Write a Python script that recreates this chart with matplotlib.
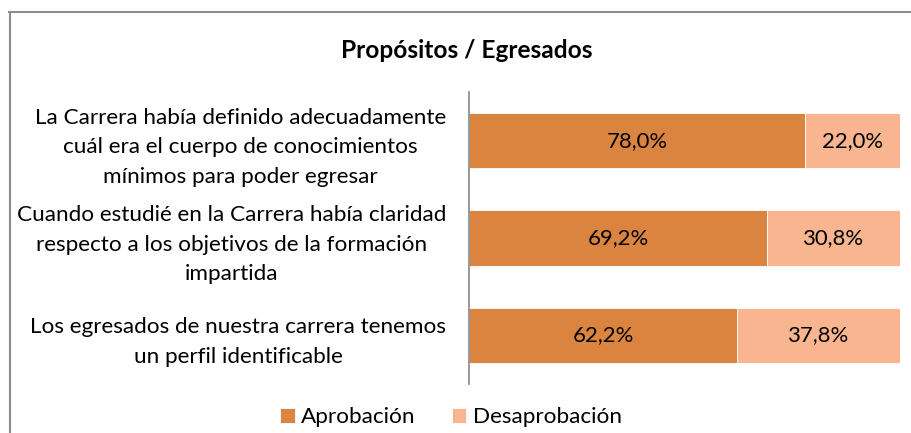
import matplotlib
matplotlib.use("Agg")
import matplotlib.pyplot as plt
from matplotlib.lines import Line2D
import numpy as np

# Survey items (top to bottom) and approval split in %
items = [
    "La Carrera había definido adecuadamente\ncuál era el cuerpo de conocimientos\nmínimos para poder egresar",
    "Cuando estudié en la Carrera había claridad\nrespecto a los objetivos de la formación\nimpartida",
    "Los egresados de nuestra carrera tenemos\nun perfil identificable",
]
aprobacion = [78.0, 69.2, 62.2]
desaprobacion = [22.0, 30.8, 37.8]
series_names = ["Aprobación", "Desaprobación"]

plt.rcParams["font.family"] = ["Lato", "DejaVu Sans"]

c_apr = "#DB843F"
c_des = "#F9B58F"

fig = plt.figure(figsize=(9.11, 4.33), dpi=100)
ax = fig.add_axes([469 / 911, 1 - 384 / 433, 431 / 911, 292 / 433])

y = np.arange(len(items))
h = 0.57
ax.barh(y, aprobacion, h, color=c_apr, edgecolor="white", linewidth=0.6,
        label=series_names[0])
ax.barh(y, desaprobacion, h, left=aprobacion, color=c_des, edgecolor="white",
        linewidth=0.6, label=series_names[1])

for yi, a, d in zip(y, aprobacion, desaprobacion):
    ax.text(a / 2, yi, f"{a:.1f}%".replace(".", ","), ha="center", va="center",
            fontsize=15.9, color="black")
    ax.text(a + d / 2, yi, f"{d:.1f}%".replace(".", ","), ha="center", va="center",
            fontsize=15.9, color="black")

ax.set_xlim(0, 100)
ax.set_ylim(len(items) - 0.5, -0.5)
ax.set_xticks([])
ax.set_yticks(y)
ax.set_yticklabels(items, fontsize=16.2, multialignment="center", linespacing=1.6)
ax.tick_params(axis="y", length=0, pad=16.5)
for s in ["top", "right", "bottom"]:
    ax.spines[s].set_visible(False)
ax.spines["left"].set_color("#868686")
ax.spines["left"].set_linewidth(1.2)

fig.text(467 / 911, 1 - 50 / 433, "Propósitos / Egresados", ha="center", va="center",
         fontsize=17.6, fontweight="bold")

fig.legend(loc="center", bbox_to_anchor=(451 / 911, 1 - 417 / 433), ncol=2,
           frameon=False, fontsize=16.2, handlelength=0.65, handleheight=0.65,
           handletextpad=0.3, columnspacing=1.6)

# chart frame (only top and left edges visible in crop)
fig.add_artist(Line2D([9 / 911, 1], [1 - 11.5 / 433] * 2, transform=fig.transFigure,
                      color="#8C8C8C", linewidth=1.5))
fig.add_artist(Line2D([9.5 / 911] * 2, [0, 1 - 11.5 / 433], transform=fig.transFigure,
                      color="#8C8C8C", linewidth=1.5))

fig.savefig("out.png", dpi=100, facecolor="white")
